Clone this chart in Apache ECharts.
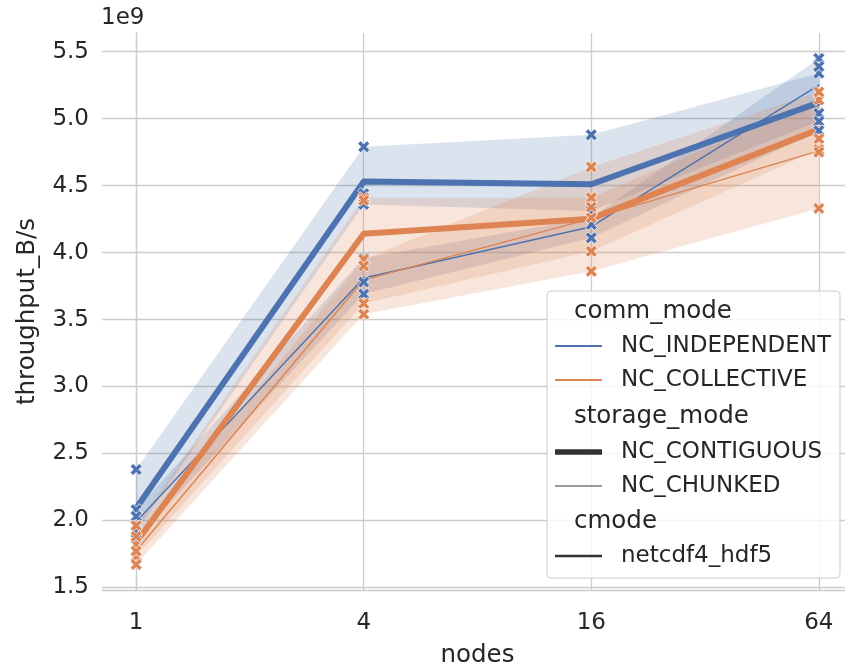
<!DOCTYPE html>
<html>
<head>
<meta charset="utf-8">
<script src="https://cdn.jsdelivr.net/npm/echarts@6/dist/echarts.min.js"></script>
<style>
html,body{margin:0;padding:0;background:#fff;}
#chart{width:845px;height:666px;}
</style>
</head>
<body>
<div id="chart"></div>
<script>
// ---- data (throughput in units of 1e9 B/s) ----
const nodes = [1, 4, 16, 64];
const xTicks = [1, 4, 16, 64];
const yTicks = [1.5, 2.0, 2.5, 3.0, 3.5, 4.0, 4.5, 5.0, 5.5];
// samples per node (3 repeats each)
const indContig  = [[2.38, 1.97, 1.92], [4.79, 4.44, 4.36], [4.88, 4.34, 4.31], [5.34, 5.04, 4.98]];
const indChunked = [[2.08, 2.03, 1.86], [3.96, 3.78, 3.69], [4.26, 4.21, 4.11], [5.45, 5.39, 4.91]];
const colContig  = [[1.96, 1.82, 1.73], [4.41, 4.39, 3.62], [4.41, 4.34, 4.01], [5.14, 4.85, 4.77]];
const colChunked = [[1.88, 1.77, 1.67], [3.95, 3.90, 3.54], [4.64, 4.26, 3.86], [5.20, 4.75, 4.33]];

const BLUE = '#4c72b0', ORANGE = '#dd8452', DARK = '#262626', GRID = '#cccccc';
const FONT = 'DejaVu Sans';
const lx = n => Math.log(n) / Math.log(4);
const mean = a => a.reduce((s, v) => s + v, 0) / a.length;

const groups = [
  { s: indContig,  color: BLUE,   width: 6 },
  { s: indChunked, color: BLUE,   width: 1.4 },
  { s: colContig,  color: ORANGE, width: 6 },
  { s: colChunked, color: ORANGE, width: 1.4 }
];

const XSYM = 'path://M0 2.4L2.4 0L5 2.6L7.6 0L10 2.4L7.4 5L10 7.6L7.6 10L5 7.4L2.4 10L0 7.6L2.6 5Z';

const series = [];
// CI bands (min..max of the 3 repeats)
groups.forEach(g => {
  const hi = g.s.map(a => Math.max(...a));
  const lo = g.s.map(a => Math.min(...a));
  series.push({
    type: 'custom', z: 1, silent: true,
    data: [[lx(nodes[0]), lo[0]]],
    renderItem: (params, api) => {
      const pts = [];
      nodes.forEach((n, i) => pts.push(api.coord([lx(n), hi[i]])));
      for (let i = nodes.length - 1; i >= 0; i--) pts.push(api.coord([lx(nodes[i]), lo[i]]));
      return { type: 'polygon', shape: { points: pts }, style: { fill: g.color, opacity: 0.2 } };
    }
  });
});
// mean lines
groups.forEach(g => {
  series.push({
    type: 'line', z: 2, silent: true, symbol: 'none',
    data: nodes.map((n, i) => [lx(n), mean(g.s[i])]),
    lineStyle: { color: g.color, width: g.width, cap: 'round', join: 'round' }
  });
});
// individual samples as X markers
[[indContig, indChunked, BLUE], [colContig, colChunked, ORANGE]].forEach(([a, b, c]) => {
  const pts = [];
  nodes.forEach((n, i) => { a[i].forEach(v => pts.push([lx(n), v])); b[i].forEach(v => pts.push([lx(n), v])); });
  series.push({
    type: 'scatter', z: 3, silent: true, symbol: XSYM, symbolSize: 12,
    data: pts,
    itemStyle: { color: c, borderColor: '#ffffff', borderWidth: 0.8, opacity: 1 }
  });
});

// ---- legend (graphic) ----
const LX = 547, LY = 291, LW = 293, LH = 287;
const legendItems = [
  { t: 'comm_mode', y: 312, title: true },
  { t: 'NC_INDEPENDENT', y: 346, c: BLUE, w: 2 },
  { t: 'NC_COLLECTIVE', y: 380, c: ORANGE, w: 2 },
  { t: 'storage_mode', y: 417, title: true },
  { t: 'NC_CONTIGUOUS', y: 452, c: '#333333', w: 5.5 },
  { t: 'NC_CHUNKED', y: 486, c: '#333333', w: 1 },
  { t: 'cmode', y: 522, title: true },
  { t: 'netcdf4_hdf5', y: 556, c: '#333333', w: 2.7 }
];
const graphics = [
  { type: 'rect', z: 100, shape: { x: LX, y: LY, width: LW, height: LH, r: 4 },
    style: { fill: 'rgba(255,255,255,0.8)', stroke: '#cccccc', lineWidth: 1 } }
];
legendItems.forEach(it => {
  if (!it.title) {
    graphics.push({ type: 'line', z: 101, shape: { x1: 555, y1: it.y, x2: 602, y2: it.y },
      style: { stroke: it.c, lineWidth: it.w } });
  }
  graphics.push({ type: 'text', z: 101, x: it.title ? 574 : 621, y: it.y,
    style: { text: it.t, font: (it.title ? '24.5px' : '23px') + ' "DejaVu Sans"', fill: DARK,
      verticalAlign: 'middle', align: 'left' } });
});
graphics.push({ type: 'text', z: 101, x: 101, y: 18,
  style: { text: '1e9', font: '23px "DejaVu Sans"', fill: DARK, verticalAlign: 'middle', align: 'left' } });

const chart = echarts.init(document.getElementById('chart'), null, { renderer: 'canvas' });
chart.setOption({
  animation: false,
  backgroundColor: '#ffffff',
  grid: { left: 102, width: 751, top: 33, height: 557, containLabel: false, outerBoundsMode: 'none' },
  xAxis: {
    type: 'value', min: -0.15, max: lx(64) + 0.15,
    name: 'nodes', nameLocation: 'middle', nameGap: 53,
    nameTextStyle: { fontFamily: FONT, fontSize: 24.5, color: DARK },
    axisLine: { show: true, lineStyle: { color: GRID, width: 1.3 } },
    axisTick: { show: false, customValues: xTicks.map(lx) },
    axisLabel: { customValues: xTicks.map(lx), fontFamily: FONT, fontSize: 23, color: DARK, margin: 22,
      formatter: v => String(Math.round(Math.pow(4, v))) },
    splitLine: { show: true, lineStyle: { color: GRID, width: 1.3 } }
  },
  yAxis: {
    type: 'value', min: 1.48, max: 5.64,
    name: 'throughput_B/s', nameLocation: 'middle', nameGap: 62, nameRotate: 90,
    nameTextStyle: { fontFamily: FONT, fontSize: 24.5, color: DARK },
    axisLine: { show: true, lineStyle: { color: GRID, width: 1.3 } },
    axisTick: { show: false, customValues: yTicks },
    axisLabel: { customValues: yTicks, fontFamily: FONT, fontSize: 23, color: DARK, margin: 13,
      formatter: v => v.toFixed(1) },
    splitLine: { show: true, lineStyle: { color: GRID, width: 1.3 } }
  },
  series: series,
  graphic: graphics
});
</script>
</body>
</html>
